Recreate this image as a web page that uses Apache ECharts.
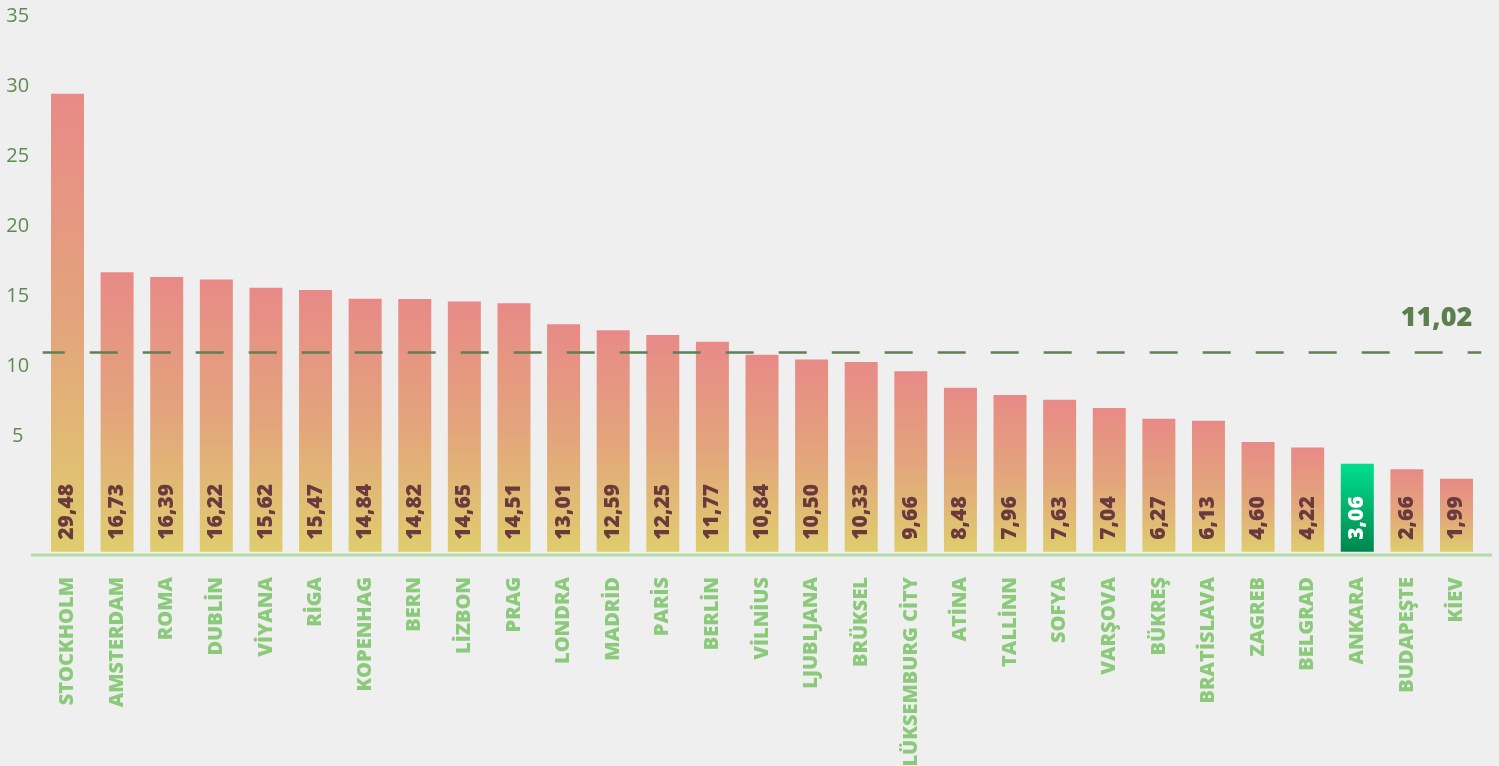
<!DOCTYPE html>
<html>
<head>
<meta charset="utf-8">
<script src="https://cdn.jsdelivr.net/npm/echarts@6/dist/echarts.min.js"></script>
<style>
html,body{margin:0;padding:0;background:#efefef;}
#chart{width:1499px;height:766px;}
</style>
</head>
<body>
<div id="chart"></div>
<script>
const cities = ['STOCKHOLM','AMSTERDAM','ROMA','DUBLİN','VİYANA','RİGA','KOPENHAG','BERN','LİZBON','PRAG','LONDRA','MADRİD','PARİS','BERLİN','VİLNİUS','LJUBLJANA','BRÜKSEL','LÜKSEMBURG CİTY','ATİNA','TALLİNN','SOFYA','VARŞOVA','BÜKREŞ','BRATİSLAVA','ZAGREB','BELGRAD','ANKARA','BUDAPEŞTE','KİEV'];
const values = [29.48,16.73,16.39,16.22,15.62,15.47,14.84,14.82,14.65,14.51,13.01,12.59,12.25,11.77,10.84,10.50,10.33,9.66,8.48,7.96,7.63,7.04,6.27,6.13,4.60,4.22,3.06,2.66,1.99];
const averageValue = 11.02;
const highlightCity = 'ANKARA';
const yTicks = [5,10,15,20,25,30,35];

const fmt = v => v.toFixed(2).replace('.', ',');
const FONT = '"Open Sans", sans-serif';

const normalColor = new echarts.graphic.LinearGradient(0,0,0,1,[
  {offset:0,color:'#e88a87'},{offset:0.5,color:'#e3a47c'},{offset:1,color:'#dfcd6d'}]);
const highlightColor = new echarts.graphic.LinearGradient(0,0,0,1,[
  {offset:0,color:'#00e08c'},{offset:1,color:'#00864e'}]);

const seriesData = values.map((v,i) => {
  const hl = cities[i] === highlightCity;
  return {
    value: v,
    itemStyle: {color: hl ? highlightColor : normalColor},
    label: {color: hl ? '#ffffff' : '#6a3a3c'}
  };
});

const chart = echarts.init(document.getElementById('chart'));
chart.setOption({
  backgroundColor: '#efefef',
  animation: false,
  grid: {left: 42.7, right: 17.7, top: 16.5, bottom: 211, containLabel: false, outerBoundsMode: 'none'},
  xAxis: {
    type: 'category',
    data: cities,
    axisLine: {show: false},
    axisTick: {show: false},
    axisLabel: {
      rotate: 90, margin: 22, interval: 0,
      color: '#8cca7b', fontFamily: FONT, fontWeight: 800, fontSize: 20
    }
  },
  yAxis: {
    type: 'value',
    min: -3.464,
    max: 35,
    startValue: -3.23,
    splitLine: {show: false},
    axisLine: {show: false},
    axisTick: {show: false},
    axisLabel: {
      customValues: yTicks,
      margin: 25, align: 'center',
      color: '#5e8b52', fontFamily: FONT, fontSize: 20
    }
  },
  graphic: [{
    type: 'line', z: 1,
    shape: {x1: 31, y1: 555, x2: 1492, y2: 555},
    style: {stroke: '#b3dca6', lineWidth: 3}
  }],
  series: [{
    type: 'bar',
    data: seriesData,
    barWidth: 33,
    label: {
      show: true,
      position: 'insideBottom',
      rotate: 90,
      align: 'left',
      verticalAlign: 'middle',
      distance: 12,
      fontFamily: FONT, fontWeight: 800, fontSize: 21,
      formatter: p => fmt(p.value)
    },
    markLine: {
      symbol: 'none',
      silent: true,
      z: 10,
      lineStyle: {color: '#5f8055', width: 2.5, type: [28, 25], dashOffset: 6},
      label: {
        show: true,
        position: 'insideEndTop',
        distance: [9, 20],
        formatter: () => fmt(averageValue),
        color: '#5b7f4d', fontFamily: FONT, fontWeight: 800, fontSize: 27
      },
      data: [{yAxis: averageValue}]
    }
  }]
});
</script>
</body>
</html>
